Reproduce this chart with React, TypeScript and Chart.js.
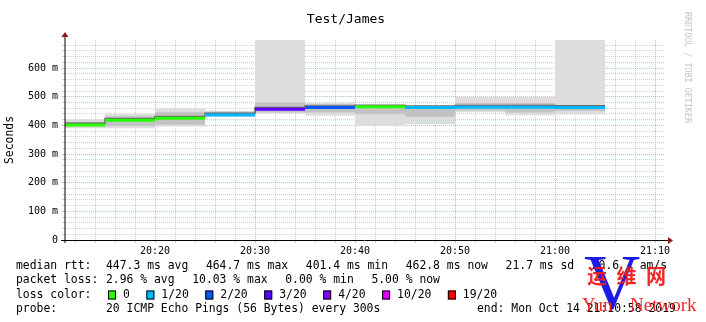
import React, { useEffect, useRef } from 'react';
import { Chart, registerables } from 'chart.js';

Chart.register(...registerables);

// ---------- data ----------
const chartTitle = 'Test/James';
const yAxisTitle = 'Seconds';
const sideText = 'RRDTOOL / TOBI OETIKER';

const rangeStart = '20:11';
const rangeEnd = '21:11';
const stepMinutes = 5;
const yMaxMs = 698;

// end time of each 5-minute step
const stepEnds = ['20:15', '20:20', '20:25', '20:30', '20:35', '20:40', '20:45', '20:50', '20:55', '21:00', '21:05'];
const medianMs = [401.4, 418, 425, 436, 456, 462, 464.7, 462, 463.5, 463.5, 462.8];
const smokeLowMs = [390, 390, 395, 430, 442, 434, 399, 405, 447, 435, 438];
const smokeHighMs = [421, 440, 459, 451, 720, 480, 462, 462, 500, 500, 720];
const coreLowMs = [396, 398, 402, 433, 445, 445, 440, 430, 452, 445, 450];
const coreHighMs = [413, 432, 446, 448, 480, 475, 462, 460, 478, 478, 470];
const lossBucket = [0, 0, 0, 1, 3, 2, 0, 1, 1, 1, 1];

const lossLabels = ['0', '1/20', '2/20', '3/20', '4/20', '10/20', '19/20'];
const lossColors = ['#26ff00', '#00b8ff', '#0059ff', '#5e00ff', '#7e00ff', '#dd00ff', '#ff0000'];

const xMajorLabels = ['20:20', '20:30', '20:40', '20:50', '21:00', '21:10'];
const xMinorStep = 2;
const yMinorStep = 20;
const yMajorStep = 100;

const rttStats = ['447.3 ms avg', '464.7 ms max', '401.4 ms min', '462.8 ms now', '21.7 ms sd', '20.6   am/s'];
const lossStats = ['2.96 % avg', '10.03 % max', '0.00 % min', '5.00 % now'];
const probeText = '20 ICMP Echo Pings (56 Bytes) every 300s';
const endText = 'end: Mon Oct 14 21:10:58 2019';

// ---------- helpers ----------
const MONO = '"DejaVu Sans Mono", monospace';
const MAJOR = 'rgba(225, 70, 70, 0.45)';
const MINOR = 'rgba(150, 150, 150, 0.45)';

const toMin = (t: string) => {
  const [h, m] = t.split(':').map(Number);
  return h * 60 + m - 20 * 60;
};
const isXMajor = (v: number) => xMajorLabels.some((l) => Math.abs(toMin(l) - v) < 1e-6);

const steppedPoints = (vals: number[]) => {
  const pts = vals.map((v, i) => ({ x: toMin(stepEnds[i]) - stepMinutes, y: v }));
  pts.push({ x: toMin(stepEnds[stepEnds.length - 1]), y: vals[vals.length - 1] });
  return pts;
};

const gridTicks = (min: number, max: number, step: number) => {
  const out: { value: number }[] = [];
  for (let v = Math.ceil(min / step) * step; v <= max + 1e-9; v += step) out.push({ value: v });
  return out;
};

const hidden = { borderWidth: 0, pointRadius: 0, stepped: 'before' as const };

const decorPlugin = {
  id: 'decor',
  afterDraw(chart: any) {
    const ctx: CanvasRenderingContext2D = chart.ctx;
    const xs = chart.scales.x;
    const ys = chart.scales.y;
    const left = xs.getPixelForValue(xs.min);
    const right = xs.getPixelForValue(xs.max);
    const bottom = ys.getPixelForValue(0);
    const top = ys.getPixelForValue(ys.max);
    ctx.save();

    // axes
    ctx.strokeStyle = '#000';
    ctx.lineWidth = 1;
    ctx.beginPath();
    ctx.moveTo(left - 4, Math.round(bottom) + 0.5);
    ctx.lineTo(right + 3, Math.round(bottom) + 0.5);
    ctx.stroke();
    ctx.beginPath();
    ctx.moveTo(left, bottom + 3);
    ctx.lineTo(left, top - 3);
    ctx.stroke();
    ctx.fillStyle = '#8b1a1a';
    ctx.beginPath();
    ctx.moveTo(right + 3, bottom - 3);
    ctx.lineTo(right + 8, bottom + 0.5);
    ctx.lineTo(right + 3, bottom + 4);
    ctx.closePath();
    ctx.fill();
    ctx.beginPath();
    ctx.moveTo(left - 3.5, top - 3);
    ctx.lineTo(left, top - 8);
    ctx.lineTo(left + 3.5, top - 3);
    ctx.closePath();
    ctx.fill();

    // title
    ctx.fillStyle = '#000';
    ctx.font = `13px ${MONO}`;
    ctx.textAlign = 'center';
    ctx.textBaseline = 'middle';
    ctx.fillText(chartTitle, 346, 20);

    // y axis title
    ctx.save();
    ctx.font = `11.4px ${MONO}`;
    ctx.translate(10, 140);
    ctx.rotate(-Math.PI / 2);
    ctx.fillText(yAxisTitle, 0, 0);
    ctx.restore();

    // side text
    ctx.save();
    ctx.font = `8.4px ${MONO}`;
    ctx.fillStyle = '#c4c4c4';
    ctx.textAlign = 'left';
    ctx.translate(687, 12);
    ctx.rotate(Math.PI / 2);
    ctx.fillText(sideText, 0, 0);
    ctx.restore();

    // legend
    ctx.font = `11.4px ${MONO}`;
    ctx.textAlign = 'left';
    ctx.textBaseline = 'middle';
    ctx.fillStyle = '#000';
    const rows = [266, 280.5, 295, 309.5];
    const gap = 17.6;
    const drawRow = (cy: number, head: string, items: string[]) => {
      ctx.fillText(head, 16, cy);
      let x = 106;
      items.forEach((t) => {
        ctx.fillText(t, x, cy);
        x += ctx.measureText(t).width + gap;
      });
    };
    drawRow(rows[0], 'median rtt:', rttStats);
    drawRow(rows[1], 'packet loss:', lossStats);
    ctx.fillText('loss color:', 16, rows[2]);
    let bx = 108;
    lossLabels.forEach((lab, i) => {
      ctx.fillStyle = lossColors[i];
      ctx.fillRect(bx, rows[2] - 4.5, 8, 9);
      ctx.strokeStyle = '#000';
      ctx.strokeRect(bx + 0.5, rows[2] - 4, 7, 8);
      ctx.fillStyle = '#000';
      ctx.fillText(lab, bx + 15, rows[2]);
      bx += 15 + ctx.measureText(lab).width + 16.5;
    });
    ctx.fillText('probe:', 16, rows[3]);
    ctx.fillText(probeText, 106, rows[3]);
    ctx.fillText(endText, 477, rows[3]);

    // watermark
    ctx.fillStyle = '#1c1ce6';
    ctx.font = '78px "Liberation Serif", serif';
    ctx.textBaseline = 'alphabetic';
    ctx.fillText('V', 584, 308);
    ctx.fillStyle = 'rgba(235, 30, 30, 0.95)';
    ctx.font = 'bold 20px "Noto Sans CJK SC", sans-serif';
    ctx.textBaseline = 'middle';
    ['运', '维', '网'].forEach((c, i) => ctx.fillText(c, 587 + i * 29.5, 276));
    ctx.font = '19px "Liberation Serif", serif';
    ctx.fillText('Yun', 582, 306);
    ctx.fillText('Network', 630, 306);

    ctx.restore();
  },
};

export default function App() {
  const ref = useRef<HTMLCanvasElement | null>(null);

  useEffect(() => {
    document.body.style.margin = '0';
    if (!ref.current) return;

    const medianSegments = medianMs.map((v, i) => ({
      data: [
        { x: toMin(stepEnds[i]) - stepMinutes, y: v },
        { x: toMin(stepEnds[i]), y: v },
      ],
      borderColor: lossColors[lossBucket[i]],
      borderWidth: 3,
      borderCapStyle: 'butt' as const,
      pointRadius: 0,
      fill: false,
      order: 0,
    }));

    const chart = new Chart(ref.current, {
      type: 'line',
      data: {
        datasets: [
          { data: steppedPoints(smokeLowMs), ...hidden, fill: false, order: 3 },
          { data: steppedPoints(smokeHighMs), ...hidden, fill: '-1', backgroundColor: '#dddddd', order: 3 },
          { data: steppedPoints(coreLowMs), ...hidden, fill: false, order: 2 },
          { data: steppedPoints(coreHighMs), ...hidden, fill: '-1', backgroundColor: '#c2c2c2', order: 2 },
          {
            data: steppedPoints(medianMs.map((v) => v + 6)),
            stepped: 'before',
            borderColor: '#6a6a6a',
            borderWidth: 1.5,
            pointRadius: 0,
            fill: false,
            order: 1,
          },
          ...medianSegments,
        ] as any,
      },
      options: {
        responsive: false,
        animation: false,
        events: [],
        layout: { padding: { left: 0, top: 40, right: 41, bottom: 0 } },
        plugins: { legend: { display: false }, tooltip: { enabled: false }, title: { display: false } },
        scales: {
          x: {
            type: 'linear',
            min: toMin(rangeStart),
            max: toMin(rangeEnd),
            z: 1,
            afterBuildTicks: (s: any) => {
              s.ticks = gridTicks(s.min, s.max, xMinorStep);
            },
            afterFit: (s: any) => {
              s.height = 82;
            },
            ticks: {
              autoSkip: false,
              maxRotation: 0,
              padding: 2,
              color: '#000',
              font: { family: MONO, size: 10 },
              callback: (v: any) => {
                const lab = xMajorLabels.find((l) => Math.abs(toMin(l) - Number(v)) < 1e-6);
                return lab ?? '';
              },
            },
            grid: {
              drawTicks: true,
              tickLength: 3,
              lineWidth: 1,
              color: (c: any) => (isXMajor(c.tick.value) ? MAJOR : MINOR),
            },
            border: { display: false, dash: [1, 1] },
          },
          y: {
            type: 'linear',
            min: 0,
            max: yMaxMs,
            z: 1,
            afterBuildTicks: (s: any) => {
              s.ticks = gridTicks(s.min, s.max, yMinorStep);
            },
            afterFit: (s: any) => {
              s.width = 65;
            },
            ticks: {
              autoSkip: false,
              padding: 4,
              color: '#000',
              font: { family: MONO, size: 10 },
              callback: (v: any) => {
                const n = Number(v);
                if (n % yMajorStep !== 0) return '';
                return n === 0 ? '0' : `${n} m`;
              },
            },
            grid: {
              drawTicks: true,
              tickLength: 3,
              lineWidth: 1,
              color: (c: any) => (c.tick.value % yMajorStep === 0 ? MAJOR : MINOR),
            },
            border: { display: false, dash: [1, 1] },
          },
        },
      },
      plugins: [decorPlugin],
    });

    return () => chart.destroy();
  }, []);

  return (
    <div style={{ position: 'absolute', left: 0, top: 0, width: 706, height: 322, background: '#fff' }}>
      <canvas ref={ref} width={706} height={322} style={{ display: 'block' }} />
    </div>
  );
}
